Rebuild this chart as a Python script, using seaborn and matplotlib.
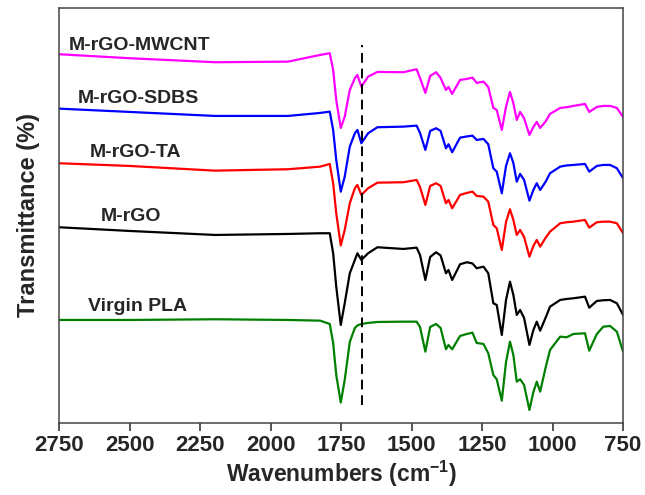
import numpy as np
import pandas as pd
import matplotlib
matplotlib.use('Agg')
import matplotlib.pyplot as plt
import seaborn as sns

#%% Data (wavenumber, cm-1 / transmittance, offset a.u.)

wavenumber = [2750, 2500, 2197, 1938, 1824, 1790, 1778, 1767, 1751, 1737,
              1719, 1701, 1692, 1678, 1654, 1621, 1529, 1482, 1470, 1451,
              1434, 1413, 1397, 1378, 1369, 1356, 1328, 1304, 1284, 1269,
              1245, 1228, 1210, 1198, 1180, 1165, 1151, 1139, 1127, 1115,
              1101, 1082, 1068, 1056, 1044, 1025, 1009, 973, 950, 926,
              885, 870, 843, 820, 796, 772, 750]

t_mwcnt = [375.7, 371.7, 367.7, 368.3, 375, 376.7, 360, 330, 302, 313.3,
           340, 351.7, 355, 343.3, 353.3, 358, 357.7, 360.7, 352, 337,
           354, 357.7, 352, 340, 343, 336, 350, 351, 352.3, 347,
           348.3, 343, 322, 320, 300, 323.3, 338, 326.7, 310, 318,
           311.7, 295, 303, 308, 302, 308.3, 316, 322, 322.7, 324,
           326, 318, 323, 324, 324, 322, 313]

t_sdbs = [321.3, 318, 314, 314, 317, 318.3, 300, 270, 238.3, 253.3,
          283.3, 296.7, 300, 286.7, 296.7, 302.7, 303.3, 304.3, 297, 280,
          299, 301.7, 299, 281.7, 285.7, 277.7, 292.3, 293.5, 294.3, 290,
          291, 285.7, 261.7, 258.3, 236.7, 264, 276.7, 267, 248.3, 256,
          250, 229.3, 240, 246.7, 240, 248, 256.7, 263.3, 264.5, 265,
          266, 258.3, 264, 265, 265, 261.7, 251.7]

t_ta = [266.7, 264, 259.3, 260.7, 263.3, 266, 246.7, 216.7, 184.5, 200,
        226.7, 241.7, 245, 235, 241.7, 247.3, 247.7, 250, 243, 225,
        244, 246.7, 244, 226.7, 230, 221.7, 235, 237, 238.3, 234,
        233.3, 228.3, 205, 201.7, 180, 208, 220.7, 210, 195, 200,
        193, 173.3, 184, 190, 183.3, 192, 198.3, 206.7, 207.7, 208.3,
        210, 202.3, 207.7, 208.3, 208.3, 206.7, 196.7]

t_mrgo = [202.7, 199, 195, 196, 196.7, 196.7, 176.7, 143.3, 105, 126.7,
          156.7, 170, 176.7, 170, 176.7, 182.7, 181, 182.3, 175, 150,
          173, 177.7, 174.5, 156.7, 160, 150, 165.7, 167.7, 166.5, 161.7,
          163.3, 156.7, 126.7, 125, 95, 130, 148.3, 135, 115, 120,
          112, 85, 100, 108.3, 99.3, 112, 123.3, 130, 131, 131.7,
          133.3, 122.3, 129, 129.7, 130, 126.7, 115]

t_pla = [110, 110, 110.7, 110, 109.3, 106, 87, 55, 27.5, 50,
         88, 102, 104.5, 106, 107, 108, 108.3, 108.3, 103, 78.3,
         103, 106, 102, 80.7, 85, 80.7, 94, 96, 97.3, 87,
         86, 76.7, 55, 50.7, 29.3, 68, 88.3, 75, 48.3, 50.7,
         45, 20, 38, 48.3, 38.3, 62, 80, 93.3, 92.7, 96,
         96.7, 79.3, 96, 103.3, 104, 98.3, 78.3]

samples = ['M-rGO-MWCNT', 'M-rGO-SDBS', 'M-rGO-TA', 'M-rGO', 'Virgin PLA']
colors = ['#ff00ff', '#0000ff', '#ff0000', '#000000', '#008000']
series = [t_mwcnt, t_sdbs, t_ta, t_mrgo, t_pla]

#%% Long table for seaborn

df = pd.concat([pd.DataFrame({'Wavenumber': wavenumber, 'T': s, 'Sample': name})
                for name, s in zip(samples, series)], ignore_index=True)

#%% Plot

sns.set_style('white')
plt.rcParams['font.family'] = ['Liberation Sans', 'DejaVu Sans']
plt.rcParams['font.weight'] = 'bold'
plt.rcParams['mathtext.fontset'] = 'custom'
plt.rcParams['mathtext.rm'] = 'Liberation Sans:bold'
plt.rcParams['mathtext.bf'] = 'Liberation Sans:bold'

fig, ax = plt.subplots(figsize=(6.45, 4.95), dpi=100)
fig.subplots_adjust(left=0.0915, right=0.966, bottom=0.1455, top=0.984)

sns.lineplot(data=df, x='Wavenumber', y='T', hue='Sample', hue_order=samples,
             palette=colors, linewidth=1.6, legend=False, ax=ax)

# dashed marker line
ax.vlines(1675, 25, 385, colors='black', linestyles=(0, (5, 3)), linewidth=1.4)

# curve labels
label_pos = [(2464, 384), (2469, 331), (2477, 277), (2493, 213), (2470, 123)]
for name, (x, y) in zip(samples, label_pos):
    ax.text(x, y, name, ha='center', va='center', fontsize=14, fontweight='bold')

ax.set_xlim(2750, 750)
ax.set_ylim(7, 422)
ax.set_xticks(np.arange(2750, 749, -250))
ax.set_yticks([])
ax.tick_params(axis='x', direction='out', length=5.5, width=1.1, pad=3,
               labelsize=16, bottom=True)
for lab in ax.get_xticklabels():
    lab.set_fontweight('bold')
for sp in ax.spines.values():
    sp.set_color('#444444')
    sp.set_linewidth(1.1)

ax.set_xlabel('Wavenumbers (cm$^{-1}$)', fontsize=16.5, fontweight='bold', labelpad=2)
ax.set_ylabel('Transmittance (%)', fontsize=17, fontweight='bold', labelpad=14)

fig.savefig('out.png', dpi=100)
